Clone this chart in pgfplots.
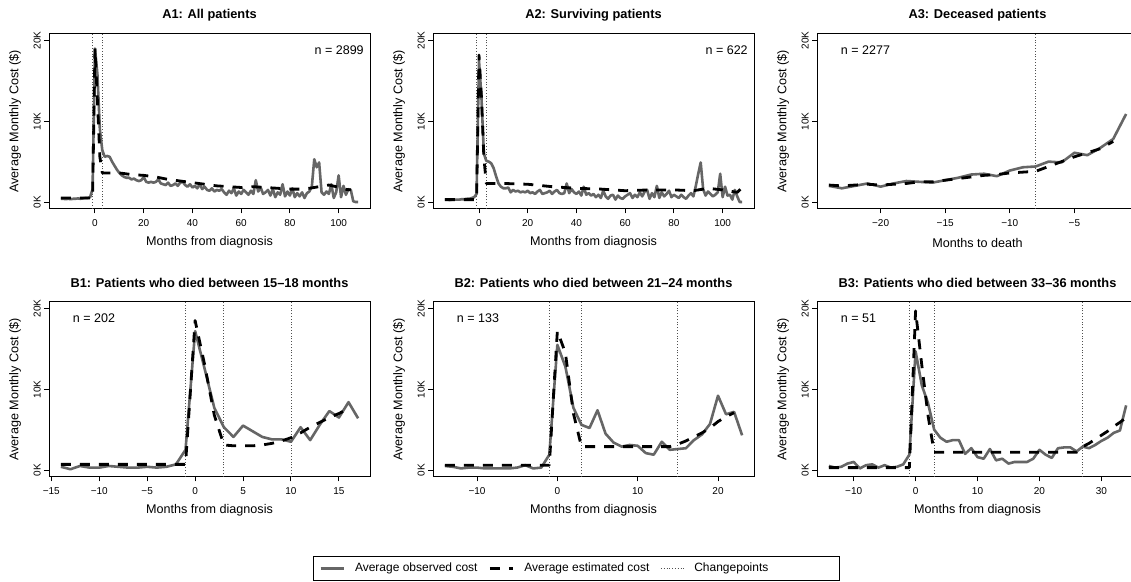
\documentclass[border=0pt]{standalone}
\usepackage{fontspec}
\setmainfont{Liberation Sans}
\usepackage{pgfplots}
\pgfplotsset{compat=1.18}
\definecolor{obs}{RGB}{102,102,102}
\definecolor{cpc}{RGB}{80,80,80}
\tikzset{nlab/.style={font=\fontsize{12.5bp}{14bp}\selectfont, inner sep=0pt}}
\pgfplotsset{
  panel/.style={
    scale only axis, width=321bp, height=174.5bp,
    ymin=-0.8, ymax=20.8, ytick={0,10,20}, yticklabels={0K,10K,20K},
    tick align=outside, tick pos=left, major tick length=5bp,
    axis line style={line width=1bp}, every tick/.style={line width=1bp, black},
    /pgf/number format/assume math mode=true,
    ticklabel style={font=\fontsize{10bp}{12bp}\selectfont},
    yticklabel style={xshift=-3bp, rotate=90, anchor=south, inner sep=0pt},
    xticklabel style={anchor=north, inner sep=0pt, yshift=-6bp},
    label style={font=\fontsize{12.6bp}{14bp}\selectfont},
    xlabel style={at={(axis description cs:0.5,-0.195)}, anchor=center},
    ylabel style={at={(axis description cs:-0.106,0.5)}, anchor=center},
    title style={at={(axis description cs:0.5,1.075)}, anchor=center, font=\bfseries\fontsize{12.8bp}{14bp}\selectfont},
    ylabel={Average Monthly Cost (\$)},
    legend image code/.code={\draw[##1] (0bp,0bp) -- (23bp,0bp);},
  },
  obs/.style={color=obs, line width=2.6bp, line join=round, no markers},
  est/.style={black, line width=2.8bp, dash pattern=on 10bp off 9bp, line join=round, no markers},
  cpl/.style={color=cpc, line width=0.8bp, dash pattern=on 0.8bp off 2bp, no markers},
}
\begin{document}
\begin{tikzpicture}
\begin{scope}
\clip (0bp,0bp) rectangle (1131bp,582bp);
\begin{pgfinterruptboundingbox}
% ---------------- A1
\begin{axis}[panel, at={(49bp,548bp)}, anchor=north west,
  xmin=-18.88, xmax=112.88, xtick={0,20,40,60,80,100},
  title={A1: All patients}, xlabel={Months from diagnosis}]
\addplot[cpl] coordinates {(-1,-0.8) (-1,20.8)};
\addplot[cpl] coordinates {(3,-0.8) (3,20.8)};
\addplot[obs] coordinates {
(-14,0.4) (-13,0.4) (-12,0.35) (-11,0.4) (-10,0.35) (-9,0.4) (-8,0.4) (-7,0.45) (-6,0.4) (-5,0.45) (-4,0.5) (-3,0.5) (-2,0.6) (-1,1.6)
(0,19.0) (1,15.8) (2,9.0) (3,6.4) (4,5.6) (5,5.7) (6,5.6) (7,5.0) (8,4.5) (9,4.0) (10,3.6) (11,3.3) (12,3.1) (13,3.0) (14,3.0) (15,2.8)
(16,2.9) (17,2.7) (18,2.6) (19,2.7) (20,3.1) (21,2.5) (22,2.4) (23,2.5) (24,2.4) (25,2.5) (26,2.8) (27,2.3) (28,2.2) (29,2.1) (30,2.4)
(31,2.0) (32,2.1) (33,2.3) (34,2.0) (35,2.4) (36,2.5) (37,2.1) (38,1.9) (39,2.2) (40,1.8) (41,2.0) (42,1.7) (43,2.2) (44,1.6) (45,1.9)
(46,1.5) (47,1.4) (48,1.7) (49,1.3) (50,1.5) (51,1.4) (52,1.6) (53,1.2) (54,0.9) (55,1.4) (56,1.1) (57,1.7) (58,0.8) (59,1.3) (60,1.0)
(61,1.5) (62,1.2) (63,0.9) (64,1.4) (65,1.0) (66,2.7) (67,1.3) (68,1.8) (69,1.0) (70,1.2) (71,1.5) (72,0.8) (73,1.6) (74,0.6) (75,1.2)
(76,0.9) (77,2.2) (78,0.7) (79,1.3) (80,0.8) (81,1.7) (82,0.6) (83,1.1) (84,0.7) (85,1.2) (86,0.5) (87,1.1) (88,1.3) (89,1.9) (90,5.3)
(91,4.3) (92,4.9) (93,1.2) (94,0.9) (95,1.3) (96,1.0) (97,2.2) (98,0.5) (99,1.2) (100,3.3) (101,0.6) (102,2.0) (103,0.9) (104,1.6)
(105,1.5) (106,0.1) (107,0.0) (108,0.0)};
\addplot[est] coordinates {
(-14,0.5) (-10,0.5) (-5,0.5) (-1,0.5) (0,19.0) (1,12.5) (2,5.6) (3,3.6) (5,3.6) (10,3.6) (15,3.4) (20,3.3) (25,3.1) (30,2.8)
(35,2.6) (40,2.4) (45,2.2) (50,2.0) (55,1.9) (60,1.8) (65,1.9) (70,1.8) (75,1.7) (80,1.6) (85,1.6) (88,1.7) (92,1.9) (96,2.1)
(99,1.9) (102,1.6) (105,1.5)};
\node[nlab, anchor=east] at (axis description cs:0.981,0.908) {n = 2899};
\end{axis}
% ---------------- A2
\begin{axis}[panel, at={(433bp,548bp)}, anchor=north west,
  xmin=-18.88, xmax=112.88, xtick={0,20,40,60,80,100},
  title={A2: Surviving patients}, xlabel={Months from diagnosis}]
\addplot[cpl] coordinates {(-1,-0.8) (-1,20.8)};
\addplot[cpl] coordinates {(3,-0.8) (3,20.8)};
\addplot[obs] coordinates {
(-14,0.3) (-13,0.3) (-12,0.25) (-11,0.3) (-10,0.3) (-9,0.3) (-8,0.3) (-7,0.35) (-6,0.35) (-5,0.4) (-4,0.4) (-3,0.5) (-2,0.6) (-1,1.0)
(0,17.5) (1,13.0) (2,6.0) (3,5.1) (4,5.0) (5,4.8) (6,4.2) (7,3.2) (8,2.3) (9,1.9) (10,1.7) (11,1.7) (12,1.8) (13,1.2) (14,1.5) (15,1.3)
(16,1.4) (17,1.2) (18,1.3) (19,1.2) (20,1.4) (21,1.1) (22,1.2) (23,1.0) (24,1.3) (25,1.5) (26,1.0) (27,1.1) (28,1.2) (29,1.4) (30,1.0)
(31,1.3) (32,1.5) (33,1.1) (34,1.0) (35,1.1) (36,2.3) (37,1.1) (38,1.6) (39,1.2) (40,1.0) (41,1.3) (42,0.8) (43,1.9) (44,0.9) (45,1.1)
(46,0.8) (47,1.0) (48,0.6) (49,0.9) (50,0.5) (51,1.4) (52,0.7) (53,0.4) (54,0.8) (55,0.9) (56,0.3) (57,0.8) (58,0.5) (59,0.4) (60,0.7)
(61,0.9) (62,1.1) (63,0.5) (64,0.9) (65,0.6) (66,1.2) (67,0.7) (68,1.3) (69,1.5) (70,0.4) (71,1.1) (72,0.6) (73,2.0) (74,0.5) (75,1.2)
(76,0.7) (77,1.0) (78,1.4) (79,0.6) (80,0.9) (81,0.7) (82,0.5) (83,0.9) (84,0.6) (85,0.4) (86,0.8) (87,1.1) (88,0.7) (89,2.0) (90,3.5)
(91,4.9) (92,1.6) (93,0.8) (94,1.3) (95,1.0) (96,0.7) (97,0.9) (98,1.2) (99,3.5) (100,0.6) (101,1.9) (102,0.8) (103,0.9) (104,0.3)
(105,1.5) (106,0.7) (107,0.0) (108,0.0)};
\addplot[est] coordinates {
(-14,0.3) (-10,0.3) (-5,0.3) (-1,0.3) (0,18.2) (1,13.0) (2,5.5) (3,2.3) (10,2.3) (20,2.2) (30,1.9) (40,1.7) (50,1.6) (60,1.4)
(70,1.5) (80,1.5) (88,1.4) (94,1.7) (100,1.5) (104,1.3) (106,1.2) (108,1.8)};
\node[nlab, anchor=east] at (axis description cs:0.981,0.908) {n = 622};
\end{axis}
% ---------------- A3
\begin{axis}[panel, at={(817bp,548bp)}, anchor=north west,
  xmin=-24.92, xmax=-0.08, xtick={-20,-15,-10,-5}, xticklabels={−20,−15,−10,−5},
  title={A3: Deceased patients}, xlabel={Months to death}]
\addplot[cpl] coordinates {(-8,-0.8) (-8,20.8)};
\addplot[obs] coordinates {
(-24,2.0) (-23,1.7) (-22,2.0) (-21,2.3) (-20,1.9) (-19,2.3) (-18,2.6) (-17,2.5) (-16,2.4) (-15,2.7) (-14,3.0) (-13,3.4)
(-12,3.5) (-11,3.2) (-10,3.9) (-9,4.3) (-8,4.4) (-7,5.0) (-6,4.9) (-5,6.1) (-4,5.8) (-3,6.7) (-2,7.8) (-1,10.9)};
\addplot[est] coordinates {
(-24,2.1) (-23,2.0) (-22,2.1) (-21,2.2) (-20,2.1) (-19,2.2) (-18,2.3) (-17,2.5) (-16,2.5) (-15,2.7) (-14,2.9) (-13,3.1)
(-12,3.3) (-11,3.4) (-10,3.6) (-9,3.7) (-8,3.8) (-7,4.4) (-6,5.0) (-5,5.6) (-4,6.1) (-3,6.6) (-2,7.5)};
\node[nlab, anchor=west] at (axis description cs:0.074,0.908) {n = 2277};
\end{axis}
% ---------------- B1
\begin{axis}[panel, at={(49bp,280bp)}, anchor=north west,
  xmin=-15.24, xmax=18.24, xtick={-15,-10,-5,0,5,10,15}, xticklabels={−15,−10,−5,0,5,10,15},
  title={B1: Patients who died between 15–18 months}, xlabel={Months from diagnosis}]
\addplot[cpl] coordinates {(-1,-0.8) (-1,20.8)};
\addplot[cpl] coordinates {(3,-0.8) (3,20.8)};
\addplot[cpl] coordinates {(10,-0.8) (10,20.8)};
\addplot[obs] coordinates {
(-14,0.4) (-13,0.1) (-12,0.5) (-11,0.3) (-10,0.3) (-9,0.5) (-8,0.4) (-7,0.3) (-6,0.3) (-5,0.4) (-4,0.3) (-3,0.4) (-2,0.7) (-1,2.5)
(0,17.2) (1,12.5) (2,7.7) (3,5.3) (4,4.1) (5,5.5) (6,4.8) (7,4.1) (8,3.8) (9,3.8) (10,3.5) (11,5.3) (12,3.7) (13,5.6) (14,7.3)
(15,6.5) (16,8.4) (17,6.4)};
\addplot[est] coordinates {
(-14,0.7) (-10,0.7) (-5,0.7) (-1,0.7) (0,18.5) (1,13.0) (2,6.8) (3,3.1) (4,3.0) (5,3.0) (6,3.0) (7,3.1) (8,3.3) (9,3.6)
(10,4.0) (11,4.6) (12,5.3) (13,5.9) (14,6.5) (15,7.0) (16,7.6)};
\node[nlab, anchor=west] at (axis description cs:0.074,0.908) {n = 202};
\end{axis}
% ---------------- B2
\begin{axis}[panel, at={(433bp,280bp)}, anchor=north west,
  xmin=-15.48, xmax=24.48, xtick={-10,0,10,20}, xticklabels={−10,0,10,20},
  title={B2: Patients who died between 21–24 months}, xlabel={Months from diagnosis},
  legend columns=3, legend cell align=left,
  legend style={at={(axis description cs:-0.3738,-0.4556)}, anchor=north west, draw=black, line width=0.8bp,
    inner xsep=6bp, inner ysep=6.9bp, font=\fontsize{12bp}{14bp}\selectfont,
    nodes={inner sep=0pt},
    /tikz/every odd column/.append style={column sep=10bp},
    /tikz/every even column/.append style={column sep=11bp}}]
\addplot[obs] coordinates {
(-14,0.5) (-13,0.4) (-12,0.2) (-11,0.3) (-10,0.3) (-9,0.2) (-8,0.2) (-7,0.2) (-6,0.2) (-5,0.3) (-4,0.6) (-3,0.2) (-2,0.3) (-1,1.9)
(0,15.5) (1,12.8) (2,7.7) (3,5.6) (4,5.2) (5,7.4) (6,4.5) (7,3.4) (8,2.9) (9,3.1) (10,3.0) (11,2.1) (12,1.9) (13,3.5) (14,2.5)
(15,2.6) (16,2.7) (17,3.7) (18,4.4) (19,5.7) (20,9.2) (21,6.9) (22,7.2) (23,4.3)};
\addlegendentry{Average observed cost}
\addplot[est] coordinates {
(-14,0.6) (-10,0.6) (-5,0.6) (-1,0.6) (0,17.2) (1,14.5) (2,7.0) (3,2.9) (8,2.9) (14,2.9) (15,3.2) (16,3.6) (17,4.1) (18,4.6)
(19,5.2) (20,6.0) (21,6.6) (22,7.1)};
\addlegendentry{Average estimated cost}
\addplot[cpl] coordinates {(-1,-0.8) (-1,20.8)};
\addlegendentry{Changepoints\hspace*{65bp}}
\addplot[cpl, forget plot] coordinates {(3,-0.8) (3,20.8)};
\addplot[cpl, forget plot] coordinates {(15,-0.8) (15,20.8)};
\node[nlab, anchor=west] at (axis description cs:0.074,0.908) {n = 133};
\end{axis}
% ---------------- B3
\begin{axis}[panel, at={(817bp,280bp)}, anchor=north west,
  xmin=-15.92, xmax=35.92, xtick={-10,0,10,20,30}, xticklabels={−10,0,10,20,30},
  title={B3: Patients who died between 33–36 months}, xlabel={Months from diagnosis}]
\addplot[cpl] coordinates {(-1,-0.8) (-1,20.8)};
\addplot[cpl] coordinates {(3,-0.8) (3,20.8)};
\addplot[cpl] coordinates {(27,-0.8) (27,20.8)};
\addplot[obs] coordinates {
(-14,0.5) (-13,0.3) (-12,0.4) (-11,0.8) (-10,1.0) (-9,0.2) (-8,0.6) (-7,0.7) (-6,0.3) (-5,0.6) (-4,0.3) (-3,0.4) (-2,0.7) (-1,1.9)
(0,14.7) (1,10.5) (2,8.3) (3,5.0) (4,4.0) (5,3.5) (6,3.7) (7,3.7) (8,2.0) (9,2.7) (10,1.6) (11,1.4) (12,2.6) (13,1.2) (14,1.4)
(15,0.8) (16,1.0) (17,1.0) (18,1.0) (19,1.4) (20,2.5) (21,1.9) (22,1.5) (23,2.7) (24,2.8) (25,2.8) (26,2.3) (27,2.9) (28,2.7)
(29,3.1) (30,3.6) (31,4.0) (32,4.6) (33,4.9) (34,8.0)};
\addplot[est] coordinates {
(-14,0.3) (-10,0.3) (-5,0.3) (-1,0.3) (0,19.7) (1,13.0) (2,6.8) (3,2.2) (10,2.2) (20,2.2) (26,2.2) (27,2.9) (28,3.3) (29,3.8)
(30,4.3) (31,4.8) (32,5.4) (33,5.9) (34,6.5)};
\node[nlab, anchor=west] at (axis description cs:0.074,0.908) {n = 51};
\end{axis}
\end{pgfinterruptboundingbox}
\end{scope}
\useasboundingbox (0bp,0bp) rectangle (1131bp,582bp);
\end{tikzpicture}
\end{document}
